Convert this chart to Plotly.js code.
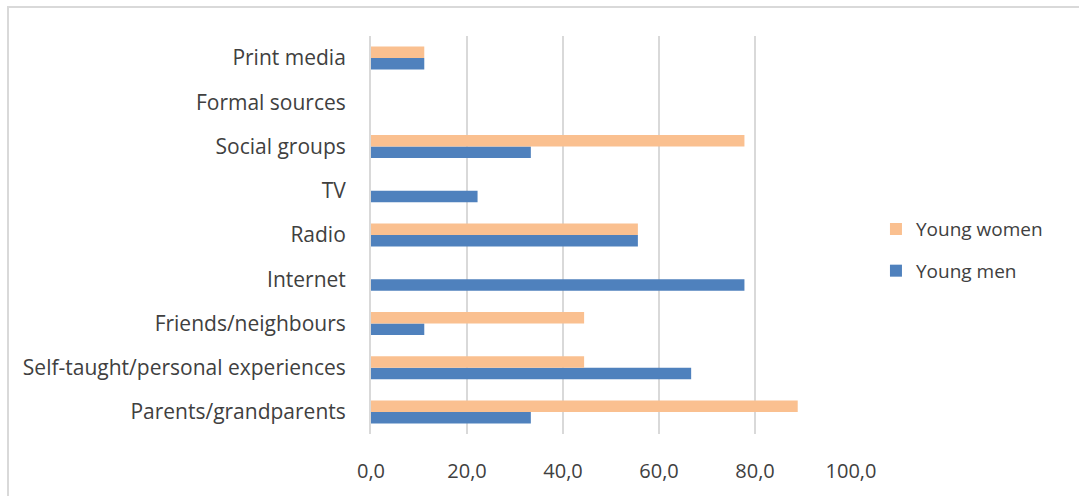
<!DOCTYPE html>
<html>
<head>
<meta charset="utf-8">
<script src="https://cdn.plot.ly/plotly-3.0.1.min.js"></script>
<style>
  html, body { margin: 0; padding: 0; background: #fff; }
  #wrap { position: relative; width: 1079px; height: 496px; overflow: hidden; }
  #frame { position: absolute; left: 7px; top: 6px; width: 1090px; height: 510px;
           border: 2px solid #D9D9D9; box-sizing: border-box; pointer-events: none; }
  #chart { position: absolute; left: 0; top: 0; width: 1079px; height: 496px; }
</style>
</head>
<body>
<div id="wrap">
  <div id="chart"></div>
  <div id="frame"></div>
</div>
<script>
// Sources of information, share of respondents (%)
const categories = [
  "Parents/grandparents",
  "Self-taught/personal experiences",
  "Friends/neighbours",
  "Internet",
  "Radio",
  "TV",
  "Social groups",
  "Formal sources",
  "Print media"
];
const youngMen   = [33.3, 66.7, 11.1, 77.8, 55.6, 22.2, 33.3, 0, 11.1];
const youngWomen = [88.9, 44.4, 44.4, 0, 55.6, 0, 77.8, 0, 11.1];
const xTicks = [0, 20, 40, 60, 80, 100];

const family = "Open Sans, Noto Sans, sans-serif";
const yTickFont = { family: family, size: 21, color: "#404040" };
const xTickFont = { family: family, size: 20, color: "#404040" };
const legendFont = { family: family, size: 19, color: "#404040" };

const traces = [
  { type: "bar", orientation: "h", name: "Young men", legendgroup: "men", legendrank: 2,
    y: categories, x: youngMen, marker: { color: "#4F81BD" }, hoverinfo: "x+name" },
  { type: "bar", orientation: "h", name: "Young women", legendgroup: "women", legendrank: 1,
    y: categories, x: youngWomen, marker: { color: "#FAC090" }, hoverinfo: "x+name" }
];

const layout = {
  width: 1079, height: 496,
  margin: { l: 371, r: 228, t: 36, b: 62 },
  paper_bgcolor: "rgba(0,0,0,0)",
  plot_bgcolor: "rgba(0,0,0,0)",
  font: xTickFont,
  separators: ", ",
  barmode: "group",
  bargap: 0.48,
  bargroupgap: 0,
  xaxis: {
    range: [0, 100], tickvals: xTicks, tickformat: ".1f",
    showgrid: true, gridcolor: "#D9D9D9", gridwidth: 2,
    zeroline: false, showline: false,
    ticks: "outside", ticklen: 19, tickcolor: "rgba(0,0,0,0)",
    tickfont: xTickFont, fixedrange: true
  },
  yaxis: {
    type: "category", range: [-0.5, 8.5],
    showgrid: false, zeroline: false,
    showline: true, linecolor: "#D9D9D9", linewidth: 2,
    ticks: "outside", ticklen: 19, tickcolor: "rgba(0,0,0,0)",
    tickfont: yTickFont, fixedrange: true
  },
  showlegend: true,
  legend: {
    x: 1.052, xanchor: "left", y: 0.462, yanchor: "middle",
    traceorder: "grouped", font: legendFont, tracegroupgap: 14,
    itemwidth: 30, bgcolor: "rgba(0,0,0,0)"
  }
};

Plotly.newPlot("chart", traces, layout, { staticPlot: true });
</script>
</body>
</html>
